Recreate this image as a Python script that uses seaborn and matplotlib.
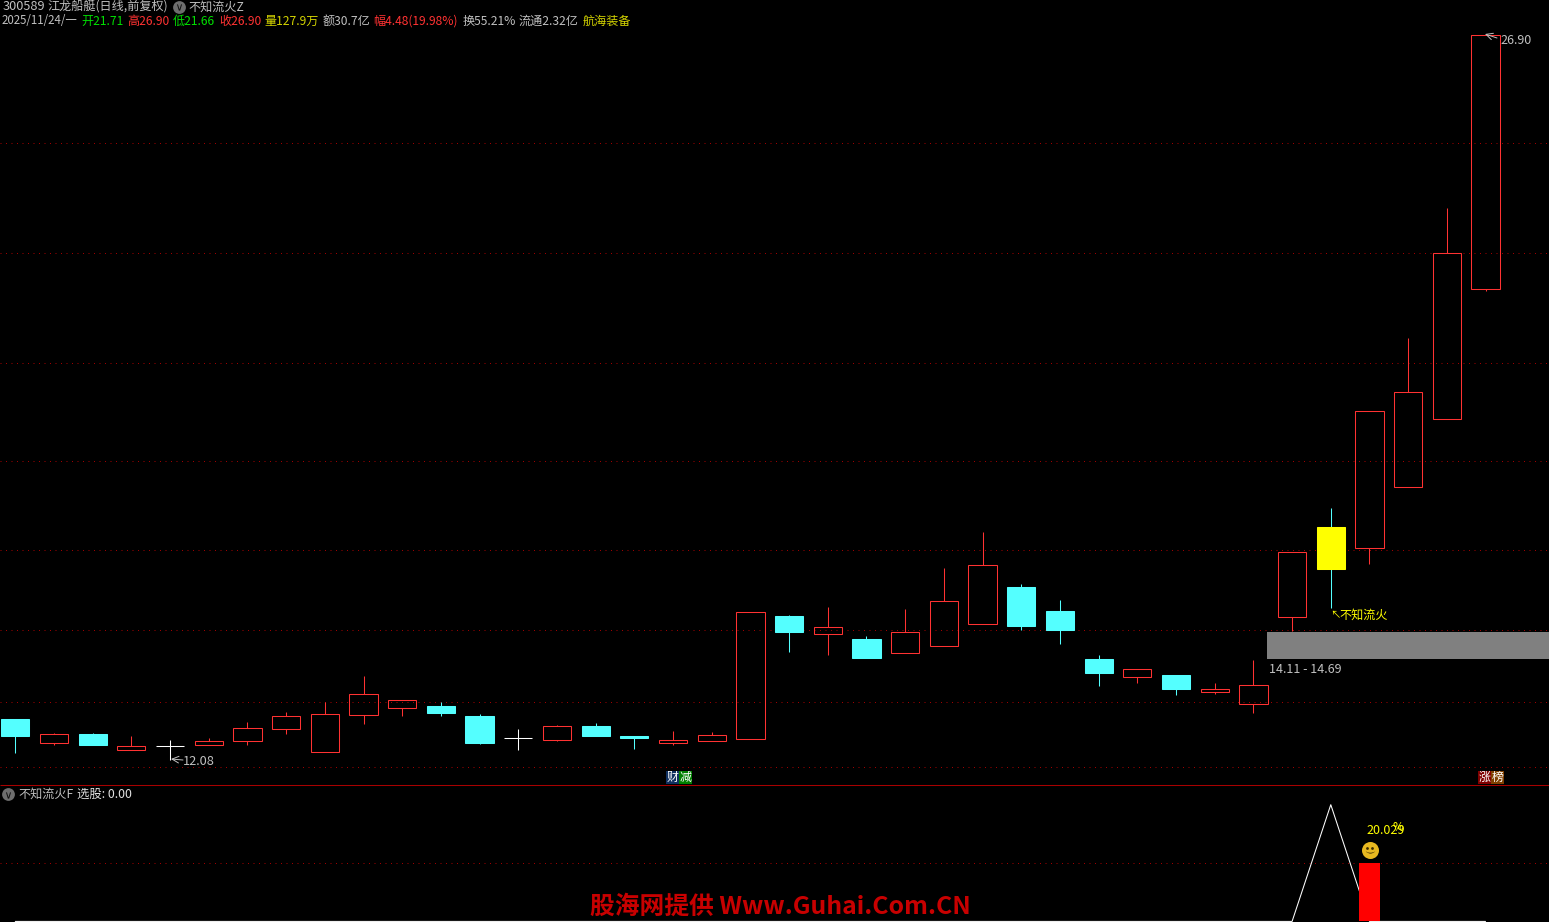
#Candlestick chart recreated with seaborn / matplotlib
import matplotlib
matplotlib.use("Agg")
import numpy as np
import pandas as pd
import matplotlib.pyplot as plt
import seaborn as sns
from matplotlib.patches import Rectangle

# ==========================================================
# 1. Data
# ==========================================================
opens = [12.91, 12.41, 12.61, 12.28, 12.35, 12.37, 12.45, 12.71, 12.24, 13.00,
         13.14, 13.18, 12.97, 12.52, 12.49, 12.77, 12.56, 12.41, 12.45, 12.51,
         15.02, 14.64, 14.55, 14.27, 14.41, 14.86, 15.61, 15.12, 14.14, 13.76,
         13.81, 13.47, 13.22, 15.00, 15.98, 16.41, 17.66, 19.05, 21.71]
closes = [12.57, 12.60, 12.38, 12.35, 12.35, 12.46, 12.72, 12.97, 13.01, 13.42,
          13.29, 13.03, 12.42, 12.52, 12.76, 12.56, 12.52, 12.48, 12.58, 15.09,
          14.69, 14.79, 14.16, 14.69, 15.32, 16.06, 14.81, 14.73, 13.85, 13.93,
          13.53, 13.52, 13.60, 16.32, 16.84, 19.21, 19.60, 22.44, 26.90]
highs = [12.91, 12.63, 12.63, 12.56, 12.48, 12.52, 12.85, 13.06, 13.25, 13.79,
         13.29, 13.26, 13.01, 12.71, 12.79, 12.83, 12.56, 12.67, 12.65, 15.09,
         15.04, 15.20, 14.61, 15.16, 16.00, 16.74, 15.67, 15.35, 14.22, 13.93,
         13.81, 13.65, 14.12, 16.32, 17.23, 19.21, 20.70, 23.36, 26.90]
lows = [12.22, 12.37, 12.38, 12.28, 12.08, 12.37, 12.37, 12.61, 12.24, 12.80,
        12.98, 12.98, 12.40, 12.28, 12.45, 12.56, 12.30, 12.38, 12.45, 12.51,
        14.28, 14.22, 14.16, 14.27, 14.41, 14.86, 14.73, 14.45, 13.59, 13.65,
        13.40, 13.42, 13.03, 14.72, 15.18, 16.09, 17.66, 19.05, 21.66]

grid_levels = [24.69, 22.44, 20.19, 18.19, 16.37, 14.73, 13.26, 11.93]
band_low, band_high = 14.14, 14.69
signal_day = 34   # yellow candle

line_days = [0, 33, 34, 35, 38]
line_vals = [0, 0, 1, 0, 0]
bar_day = 35
bar_val = 0.5

df = pd.DataFrame({"open": opens, "close": closes, "high": highs, "low": lows})
df["day"] = np.arange(len(df))

RED = "#ff3232"
CYAN = "#54ffff"
WHITE = "#ffffff"
YELLOW = "#ffff00"
GRAY = "#c0c0c0"
GRID = "#a00000"
CJK = ["Noto Sans CJK SC", "DejaVu Sans"]

sns.set_theme(style="dark", rc={"axes.facecolor": "black", "figure.facecolor": "black"})
plt.rcParams["font.family"] = CJK
plt.rcParams["axes.unicode_minus"] = False

W, H = 1549, 922
fig = plt.figure(figsize=(W / 100, H / 100), dpi=100)

# main panel is the top 785 px, indicator panel the rest
ax = fig.add_axes([0, (H - 785) / H, 1, 785 / H])
ax2 = fig.add_axes([0, 0, 1, (H - 786) / H])
over = fig.add_axes([0, 0, 1, 1])   # pixel coordinates for the labels
over.set_xlim(0, W)
over.set_ylim(H, 0)
over.axis("off")
over.patch.set_alpha(0)

xlim = (-0.395, 39.64)
body_w = 0.73

# ==========================================================
# 2. Candles
# ==========================================================
ax.hlines(grid_levels, *xlim, colors=GRID, linewidth=0.72, linestyles=(0, (1, 4.5)), zorder=1)

for row in df.itertuples():
    top, bot = max(row.open, row.close), min(row.open, row.close)
    if row.day == signal_day:
        wick, face, edge = CYAN, YELLOW, YELLOW
    elif row.open == row.close:
        wick, face, edge = WHITE, WHITE, WHITE
    elif row.close > row.open:
        wick, face, edge = RED, "none", RED
    else:
        wick, face, edge = CYAN, CYAN, CYAN
    ax.vlines(row.day, row.low, bot, colors=wick, linewidth=0.75, zorder=2)
    ax.vlines(row.day, top, row.high, colors=wick, linewidth=0.75, zorder=2)
    if row.open == row.close:
        ax.hlines(top, row.day - body_w / 2, row.day + body_w / 2, colors=WHITE, linewidth=0.75, zorder=3)
    else:
        ax.bar(row.day, top - bot, bottom=bot, width=body_w, facecolor=face,
               edgecolor=edge, linewidth=0.75, zorder=3)

# gray support band
ax.add_patch(Rectangle((32.35, band_low), xlim[1] - 32.35, band_high - band_low,
                       facecolor="#808080", edgecolor="none", zorder=4))

ax.set_xlim(*xlim)
ax.set_ylim(11.56, 27.616)
ax.set_xticks([])
ax.set_yticks([])
ax.grid(False)
sns.despine(ax=ax, left=True, bottom=True, top=True, right=True)

# ==========================================================
# 3. Indicator panel
# ==========================================================
ax2.hlines(bar_val, *xlim, colors=GRID, linewidth=0.72, linestyles=(0, (1, 4.5)), zorder=1)
line_df = pd.DataFrame({"day": line_days, "val": line_vals})
sns.lineplot(data=line_df, x="day", y="val", color=WHITE, linewidth=0.75, ax=ax2, zorder=2)
ax2.bar(bar_day, bar_val, width=0.54, color="#ff0000", edgecolor="none", linewidth=0, zorder=3)
ax2.set_xlim(*xlim)
ax2.set_ylim(-0.005, 1.16)
ax2.set_xticks([])
ax2.set_yticks([])
ax2.set_xlabel("")
ax2.set_ylabel("")
ax2.grid(False)
sns.despine(ax=ax2, left=True, bottom=True, top=True, right=True)

# panel separator
over.hlines(785.3, 0, W, colors="#a80000", linewidth=0.75)

# ==========================================================
# 4. Labels
# ==========================================================
def label(x, y, s, color=GRAY, size=8.7, **kw):
    over.text(x, y, s, color=color, fontsize=size, va="center", ha="left", family=CJK, **kw)

def icon(x, y):
    over.scatter([x], [y], s=85, color="#6e6e6e", linewidth=0, zorder=5)
    over.scatter([x], [y + 0.5], s=20, marker=r"$\vee$", color="#111111", linewidth=0, zorder=6)

label(3, 7, "300589", size=9.2)
label(47, 7, "江龙船艇(日线,前复权)")
icon(179, 7)
label(188, 7, "不知流火Z")

GREEN = "#00e000"
OLIVE = "#d4d400"
label(2, 21, "2025/11/24/一", size=8.25)
label(81, 21, "开21.71", GREEN)
label(127, 21, "高26.90", RED)
label(173, 21, "低21.66", GREEN)
label(219, 21, "收26.90", RED)
label(264, 21, "量127.9万", OLIVE)
label(323, 21, "额30.7亿")
label(373, 21, "幅4.48(19.98%)", RED)
label(463, 21, "换55.21%")
label(519, 21, "流通2.32亿")
label(583, 21, "航海装备", OLIVE)

# price callouts
over.annotate("", xy=(171, 759), xytext=(183, 760),
              arrowprops=dict(arrowstyle="->", color=GRAY, lw=0.7, shrinkA=0, shrinkB=0))
label(183, 761, "12.08", size=9.2)
over.annotate("", xy=(1485, 34), xytext=(1497, 38),
              arrowprops=dict(arrowstyle="->", color=GRAY, lw=0.7, shrinkA=0, shrinkB=0))
label(1500, 40, "26.90", size=9.0)
label(1269, 669, "14.11 - 14.69", size=9.0)
label(1330, 615, "↖", YELLOW, size=7.5)
label(1339, 615, "不知流火", YELLOW)

# small tags above the separator
for x, s, bg in [(666, "财", "#103060"), (679, "减", "#008000"),
                 (1478, "涨", "#800000"), (1491, "榜", "#804000")]:
    over.add_patch(Rectangle((x, 771), 13, 13, facecolor=bg, edgecolor="none"))
    over.text(x + 6.5, 777.5, s, color=WHITE, fontsize=8.6, ha="center", va="center", family=CJK)

# indicator panel text
icon(8, 794)
label(18, 794, "不知流火F")
label(77, 794, "选股: 0.00", "#e0e0e0", size=8.9)
label(1366, 830, "20.029", YELLOW, size=9.0)
label(1393, 827, "%", YELLOW)
# smiley
over.scatter([1370], [850], s=150, color="#e8b820", linewidth=0, zorder=5)
over.scatter([1367.5, 1372.5], [848, 848], s=4, color="#3a2a00", linewidth=0, zorder=6)
over.scatter([1370], [852], s=45, marker=r"$\smile$", color="#3a2a00", linewidth=0, zorder=6)

# watermark
over.text(590, 906.5, "股海网提供 Www.Guhai.Com.CN", color="#c80000", fontsize=17.85,
          fontweight="bold", ha="left", va="center", family=CJK, zorder=7)

plt.savefig("out.png", dpi=100, facecolor="black")
